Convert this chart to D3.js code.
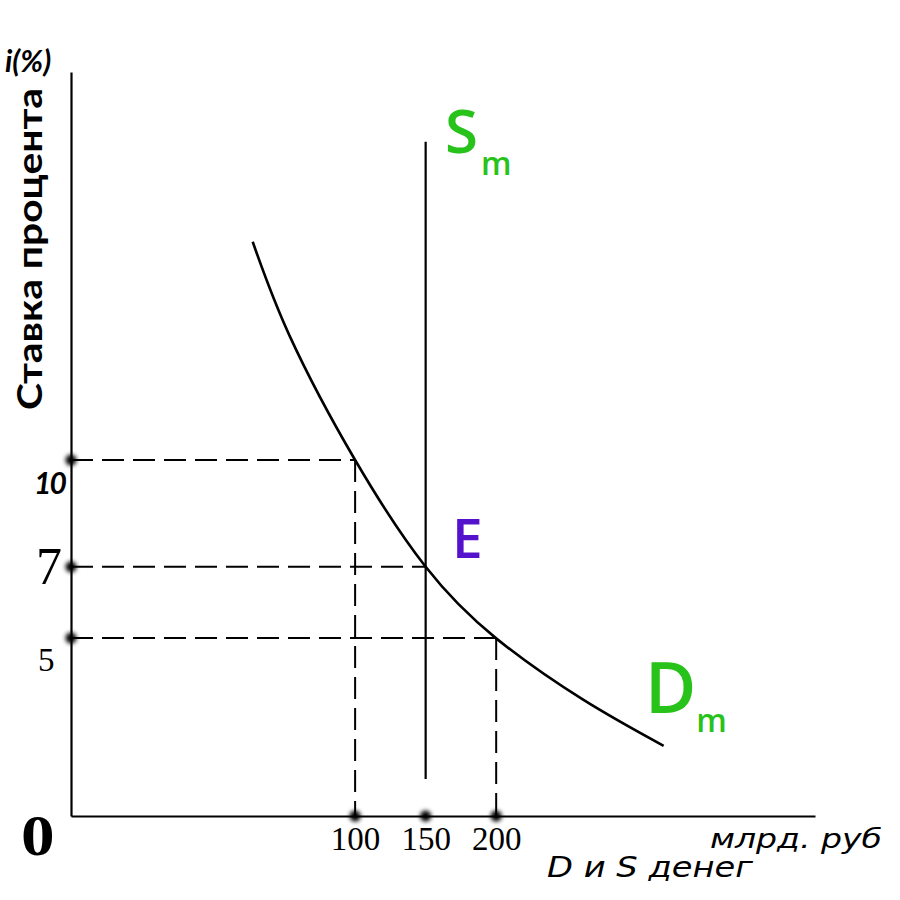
<!DOCTYPE html>
<html><head><meta charset="utf-8">
<script src="https://cdn.jsdelivr.net/npm/d3@7"></script>
<style>body{margin:0;background:#fff}</style>
</head><body>
<svg id="c" width="900" height="900"></svg>
<script>
// ---- data ----
const xTicks = [100, 150, 200];
const yTicks = [10, 7, 5];
const demandX = [27.4, 53.9, 100, 150, 200, 261.9, 318.7];
const demandY = [16.13, 13.46, 10, 7.0, 4.99, 3.26, 1.97];
const supplyX = [150, 150];
const supplyY = [1.04, 18.94];
const eqQ = [100, 150, 200];   // quantities
const eqR = [10, 7, 5];        // rates

const svg = d3.select('#c');
const x = d3.scaleLinear().domain([-101.4, 426]).range([71, 815]);
const y = d3.scaleLinear().domain([0, 20.9]).range([816, 72]);

const defs = svg.append('defs');
defs.append('filter').attr('id','blur').attr('x','-1').attr('y','-1').attr('width','3').attr('height','3')
  .append('feGaussianBlur').attr('stdDeviation', 2);

// dashed guide lines
const g = svg.append('g');
const dash = '22,9';
eqQ.forEach((q, i) => {
  g.append('line').attr('x1', x(x.domain()[0])).attr('x2', x(q))
    .attr('y1', y(eqR[i])).attr('y2', y(eqR[i]))
    .attr('stroke', '#000').attr('stroke-width', 2).attr('stroke-dasharray', dash);
  if (q !== 150) {
    g.append('line').attr('x1', x(q)).attr('x2', x(q))
      .attr('y1', y(eqR[i])).attr('y2', y(0))
      .attr('stroke', '#000').attr('stroke-width', 2).attr('stroke-dasharray', dash);
  }
});

// axes
const xAxis = d3.axisBottom(x).tickValues(xTicks).tickSize(0).tickPadding(0).tickFormat(d3.format('d'));
const yAxis = d3.axisLeft(y).tickValues(yTicks).tickSize(0).tickFormat(d3.format('d'));
const gx = svg.append('g').attr('transform', `translate(0,${y(0)})`).call(xAxis);
const gy = svg.append('g').attr('transform', `translate(${x(x.domain()[0])},0)`).call(yAxis);
[gx, gy].forEach(a => a.select('.domain').attr('stroke', '#000').attr('stroke-width', 2.2));
gx.selectAll('text')
  .attr('y', 34).attr('dy', 0)
  .attr('font-family', '"Liberation Serif", serif').attr('font-size', 33).attr('fill', '#000');
gy.selectAll('.tick text').each(function(d){
  const t = d3.select(this);
  t.attr('text-anchor', 'start').attr('dy', 0).attr('fill', '#000');
  if (d === 10) {
    t.attr('x', -37).attr('y', 33).attr('font-family', 'Lato, sans-serif').attr('font-weight', 'bold')
     .attr('font-style', 'italic').attr('font-size', 30).attr('letter-spacing', -2);
  } else if (d === 7) {
    t.attr('x', -35).attr('y', 17).attr('font-family', '"Liberation Serif", serif').attr('font-size', 52);
  } else {
    t.attr('x', -33).attr('y', 32).attr('font-family', '"Liberation Serif", serif').attr('font-size', 33);
  }
});

// supply line
const line = d3.line().x(d => x(d[0])).y(d => y(d[1]));
svg.append('path').datum(supplyX.map((v, i) => [v, supplyY[i]]))
  .attr('d', line).attr('stroke', '#000').attr('stroke-width', 2.2).attr('fill', 'none');

// demand curve
svg.append('path').datum(demandX.map((v, i) => [v, demandY[i]]))
  .attr('d', d3.line().x(d => x(d[0])).y(d => y(d[1])).curve(d3.curveNatural))
  .attr('stroke', '#000').attr('stroke-width', 2.6).attr('fill', 'none');

// dots
const dots = svg.append('g').attr('filter', 'url(#blur)');
eqR.forEach(r => dots.append('circle').attr('cx', x(x.domain()[0])).attr('cy', y(r)).attr('r', 5.5).attr('fill', '#000'));
eqQ.forEach(q => dots.append('circle').attr('cx', x(q)).attr('cy', y(0)).attr('r', 5.5).attr('fill', '#000'));

// labels
svg.append('text').attr('x', 5).attr('y', 72).text('i(%)')
  .attr('font-family', 'Lato, sans-serif').attr('font-weight', 'bold').attr('font-style', 'italic').attr('font-size', 30);
svg.append('text').attr('transform', 'translate(42,410) rotate(-90)').text('Ставка процента')
  .attr('font-family', 'Lato, sans-serif').attr('font-weight', 'bold').attr('font-size', 34)
  .attr('textLength', 322).attr('lengthAdjust', 'spacingAndGlyphs');
svg.append('text').attr('x', 21).attr('y', 855).text('0')
  .attr('font-family', '"Liberation Serif", serif').attr('font-weight', 'bold').attr('font-size', 56)
  .attr('transform', 'translate(21,855) scale(1.2,1) translate(-21,-855)');
svg.append('text').attr('x', 710).attr('y', 848).text('млрд. руб')
  .attr('font-family', '"DejaVu Sans", sans-serif').attr('font-style', 'italic').attr('font-size', 26)
  .attr('textLength', 172).attr('lengthAdjust', 'spacingAndGlyphs');
svg.append('text').attr('x', 547).attr('y', 877).text('D и S денег')
  .attr('font-family', '"DejaVu Sans", sans-serif').attr('font-style', 'italic').attr('font-size', 28)
  .attr('textLength', 206).attr('lengthAdjust', 'spacingAndGlyphs');

const green = '#27c21a', purple = '#5512cc';
const sm = svg.append('text').attr('x', 445).attr('y', 153).attr('fill', green)
  .attr('font-family', '"Open Sans", sans-serif').attr('font-weight', 600);
sm.append('tspan').text('S').attr('font-size', 60);
sm.append('tspan').text('m').attr('font-size', 32).attr('dy', 22).attr('dx', 3);
svg.append('text').attr('x', 452).attr('y', 558).text('E').attr('fill', purple)
  .attr('font-family', '"Open Sans", sans-serif').attr('font-weight', 600).attr('font-size', 55);
const dm = svg.append('text').attr('x', 645).attr('y', 713).attr('fill', green)
  .attr('font-family', '"Open Sans", sans-serif').attr('font-weight', 600);
dm.append('tspan').text('D').attr('font-size', 70);
dm.append('tspan').text('m').attr('font-size', 32).attr('dy', 19).attr('dx', 0);
</script>
</body></html>
